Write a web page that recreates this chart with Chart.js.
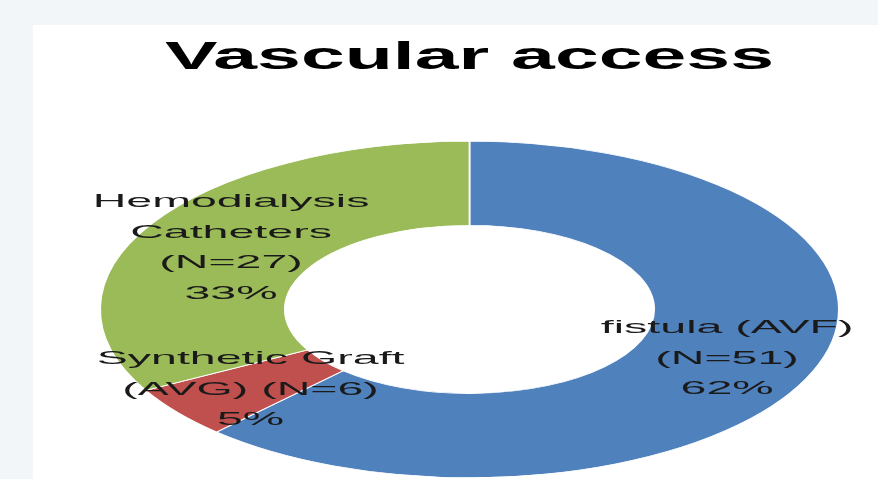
<!DOCTYPE html>
<html>
<head>
<meta charset="utf-8">
<script src="https://cdn.jsdelivr.net/npm/chart.js@4"></script>
<style>
    body { margin: 0; background: #f2f6f9; overflow: hidden; }
    #panel { position: absolute; left: 33px; top: 25px; width: 845px; height: 454px; background: #fff; }
</style>
</head>
<body>
<div id="panel"><canvas id="accessChart"></canvas></div>
<script>
// Data
const categories = ["fistula (AVF)", "Synthetic Graft (AVG)", "Hemodialysis Catheters"];
const counts = [51, 6, 27];
const percents = [62, 5, 33];
const sliceColors = ["#4f81bd", "#c0504d", "#9bbb59"];

// how each label is broken into lines (N and % are added from the arrays above)
const nameLines = [["fistula (AVF)"], ["Synthetic Graft", "(AVG)"], ["Hemodialysis", "Catheters"]];

// the picture is stretched sideways, so stretch the ring and the text too
const RING_STRETCH = 2.196;
const TITLE_STRETCH = 2.02;
const LABEL_STRETCH = 2.45;

function labelLines(i) {
    const lines = nameLines[i].slice();
    const n = "(N=" + counts[i] + ")";
    if (i === 1) {
        lines[lines.length - 1] += " " + n; // "(AVG) (N=6)" sits on one line
    } else {
        lines.push(n);
    }
    lines.push(percents[i] + "%");
    return lines;
}

const stretchPlugin = {
    id: "stretch",
    beforeDraw(chart) {
        // title is drawn right after this hook
        const t = chart.titleBlock;
        const cx = (t.left + t.right) / 2;
        const ctx = chart.ctx;
        ctx.save();
        ctx.translate(cx, 0);
        ctx.scale(TITLE_STRETCH, 1);
        ctx.translate(-cx, 0);
    },
    beforeDatasetsDraw(chart) {
        const ctx = chart.ctx;
        ctx.restore();
        const a = chart.chartArea;
        const cx = (a.left + a.right) / 2;
        ctx.save();
        ctx.translate(cx, 0);
        ctx.scale(RING_STRETCH, 1);
        ctx.translate(-cx, 0);
    },
    afterDatasetsDraw(chart) {
        const ctx = chart.ctx;
        ctx.restore();

        const a = chart.chartArea;
        const cx = (a.left + a.right) / 2;
        const lineH = 30.5;
        ctx.save();
        ctx.font = "19px 'Liberation Sans'";
        ctx.fillStyle = "#1a1a1a";
        ctx.textAlign = "center";
        ctx.textBaseline = "alphabetic";
        chart.getDatasetMeta(0).data.forEach((arc, i) => {
            const p = arc.getCenterPoint();
            const x = cx + (p.x - cx) * RING_STRETCH;
            const lines = labelLines(i);
            const y0 = p.y - (lines.length - 1) * lineH / 2 + 8;
            lines.forEach((s, k) => {
                ctx.save();
                ctx.translate(x, y0 + k * lineH);
                ctx.scale(LABEL_STRETCH, 1);
                ctx.fillText(s, 0, 0);
                ctx.restore();
            });
        });
        ctx.restore();
    }
};

new Chart(document.getElementById("accessChart"), {
    type: "doughnut",
    data: {
        labels: categories,
        datasets: [{
            data: percents,
            backgroundColor: sliceColors,
            borderColor: "#ffffff",
            borderWidth: 0.8
        }]
    },
    options: {
        responsive: true,
        maintainAspectRatio: false,
        animation: false,
        events: [],
        cutout: "50%",
        layout: { padding: { left: 28, right: 0, top: 0, bottom: 1 } },
        plugins: {
            legend: { display: false },
            tooltip: { enabled: false },
            title: {
                display: true,
                text: "Vascular access",
                color: "#000000",
                font: { family: "'Liberation Sans'", size: 39, weight: "bold", lineHeight: 1.2 },
                padding: { top: 10, bottom: 59 }
            }
        }
    },
    plugins: [stretchPlugin]
});
</script>
</body>
</html>
